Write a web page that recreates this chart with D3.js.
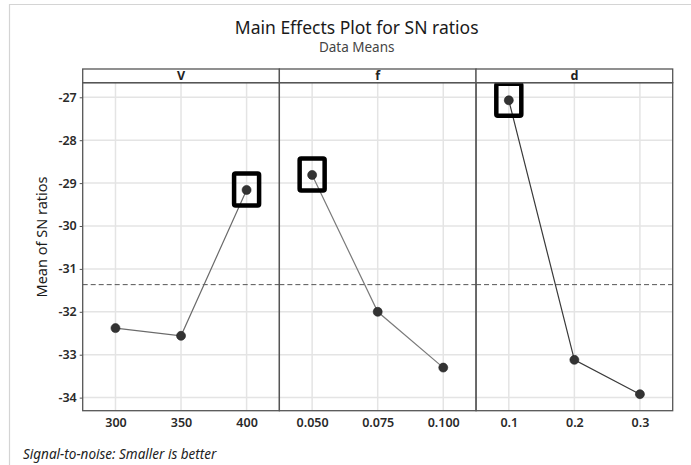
<!DOCTYPE html>
<meta charset="utf-8">
<head>
<style>
  body { margin: 0; background: #fff; }
  text { font-family: "Noto Sans", "Open Sans", sans-serif; }
</style>
</head>
<body>
<script src="https://d3js.org/d3.v7.min.js"></script>
<script>

// factor names and their levels
var factors = ["V", "f", "d"];
var levelsV = ["300", "350", "400"];
var levelsF = ["0.050", "0.075", "0.100"];
var levelsD = ["0.1", "0.2", "0.3"];

// mean SN ratio at each level
var snV = [-32.38, -32.56, -29.16];
var snF = [-28.81, -32.00, -33.30];
var snD = [-27.07, -33.12, -33.92];

// levels picked out with a black box (index into each factor)
var bestLevel = [2, 0, 0];

var yTicks = [-27, -28, -29, -30, -31, -32, -33, -34];

var width = 691,
    height = 465;

var margin = {left: 82.7, right: 18.3, top: 82.7, bottom: 54.3};
var stripH = 13.7;

var svg = d3.select("body").append("svg")
    .attr("width", width)
    .attr("height", height);

svg.append("rect")
    .attr("width", width).attr("height", height)
    .attr("fill", "#fff");

// faint frame of the original screenshot
svg.append("path")
    .attr("d", "M9.5," + height + "V4.5H" + width)
    .attr("fill", "none")
    .attr("stroke", "#d4d4d4")
    .attr("stroke-width", 1.2);

var plotBottom = height - margin.bottom;

var y = d3.scaleLinear()
    .domain([-34.305, -26.66])
    .range([plotBottom, margin.top]);

var panelX = d3.scaleBand()
    .domain(factors)
    .range([margin.left, width - margin.right])
    .padding(0);

var panels = [
  {name: "V", levels: levelsV, values: snV, line: "#6a6a6a"},
  {name: "f", levels: levelsF, values: snF, line: "#7a7a7a"},
  {name: "d", levels: levelsD, values: snD, line: "#3a3a3a"}
];

var overallMean = d3.mean(snV);

// y gridlines + axis
var grid = svg.append("g");
grid.selectAll("line.h")
    .data(yTicks)
    .enter().append("line")
    .attr("x1", margin.left).attr("x2", width - margin.right)
    .attr("y1", d => y(d)).attr("y2", d => y(d))
    .attr("stroke", "#e4e4e4")
    .attr("stroke-width", 1.5);

var yAxis = svg.append("g")
    .attr("transform", "translate(" + margin.left + ",0)")
    .call(d3.axisLeft(y).tickValues(yTicks).tickSize(3).tickPadding(3)
      .tickFormat(d => "-" + Math.abs(d)));
yAxis.select(".domain").remove();
yAxis.selectAll("line").attr("stroke", "#555");
yAxis.selectAll("text")
    .attr("font-size", 12.5)
    .attr("font-weight", 600)
    .attr("fill", "#2a2a2a")
    .style("font-family", "'Noto Sans', sans-serif");

panels.forEach(function(p, i) {
  var x0 = panelX(p.name), bw = panelX.bandwidth();
  var x = d3.scalePoint().domain(p.levels).range([x0, x0 + bw]).padding(0.5);
  var g = svg.append("g");

  g.selectAll("line.v")
    .data(p.levels)
    .enter().append("line")
    .attr("x1", d => x(d)).attr("x2", d => x(d))
    .attr("y1", margin.top).attr("y2", plotBottom)
    .attr("stroke", "#e4e4e4")
    .attr("stroke-width", 1.5);

  // reference line at the overall mean
  g.append("line")
    .attr("x1", x0).attr("x2", x0 + bw)
    .attr("y1", y(overallMean)).attr("y2", y(overallMean))
    .attr("stroke", "#555")
    .attr("stroke-width", 1)
    .attr("stroke-dasharray", "5,3");

  var pts = p.levels.map((l, k) => [x(l), y(p.values[k])]);

  g.append("path")
    .attr("d", d3.line()(pts))
    .attr("fill", "none")
    .attr("stroke", p.line)
    .attr("stroke-width", 1.2);

  g.selectAll("circle")
    .data(pts)
    .enter().append("circle")
    .attr("cx", d => d[0]).attr("cy", d => d[1])
    .attr("r", 4.5)
    .attr("fill", "#333")
    .attr("stroke", "#222")
    .attr("stroke-width", 0.6);

  var bp = pts[bestLevel[i]];
  g.append("rect")
    .attr("x", bp[0] - 12.5).attr("y", bp[1] - 16.5)
    .attr("width", 25).attr("height", 32)
    .attr("rx", 1.5)
    .attr("fill", "none")
    .attr("stroke", "#000")
    .attr("stroke-width", 4.5);

  var xAxis = svg.append("g")
    .attr("transform", "translate(0," + plotBottom + ")")
    .call(d3.axisBottom(x).tickSize(0).tickPadding(7));
  xAxis.select(".domain").remove();
  xAxis.selectAll("text")
    .attr("font-size", 12.5)
    .attr("font-weight", 600)
    .attr("fill", "#2a2a2a")
    .style("font-family", "'Noto Sans', sans-serif");

  // strip header
  svg.append("rect")
    .attr("x", x0).attr("y", margin.top - stripH)
    .attr("width", bw).attr("height", stripH)
    .attr("fill", "#fff")
    .attr("stroke", "#555")
    .attr("stroke-width", 1.3);
  svg.append("text")
    .attr("x", x0 + bw / 2).attr("y", margin.top - stripH / 2)
    .attr("dy", "0.35em")
    .attr("text-anchor", "middle")
    .attr("font-size", 12.5)
    .attr("font-weight", 700)
    .attr("fill", "#222")
    .text(p.name);

  svg.append("rect")
    .attr("x", x0).attr("y", margin.top)
    .attr("width", bw).attr("height", plotBottom - margin.top)
    .attr("fill", "none")
    .attr("stroke", "#555")
    .attr("stroke-width", 1.3);
});

// titles
svg.append("text")
    .attr("x", 356.7).attr("y", 34)
    .attr("text-anchor", "middle")
    .attr("font-size", 17.5)
    .attr("fill", "#1a1a1a")
    .text("Main Effects Plot for SN ratios");

svg.append("text")
    .attr("x", 356.7).attr("y", 52)
    .attr("text-anchor", "middle")
    .attr("font-size", 13.5)
    .attr("fill", "#444")
    .text("Data Means");

svg.append("text")
    .attr("transform", "translate(47,237) rotate(-90)")
    .attr("text-anchor", "middle")
    .attr("font-size", 14.5)
    .attr("fill", "#1a1a1a")
    .text("Mean of SN ratios");

svg.append("text")
    .attr("x", 23).attr("y", 459)
    .attr("font-size", 13.5)
    .attr("font-style", "italic")
    .attr("fill", "#222")
    .text("Signal-to-noise: Smaller is better");

</script>
</body>
